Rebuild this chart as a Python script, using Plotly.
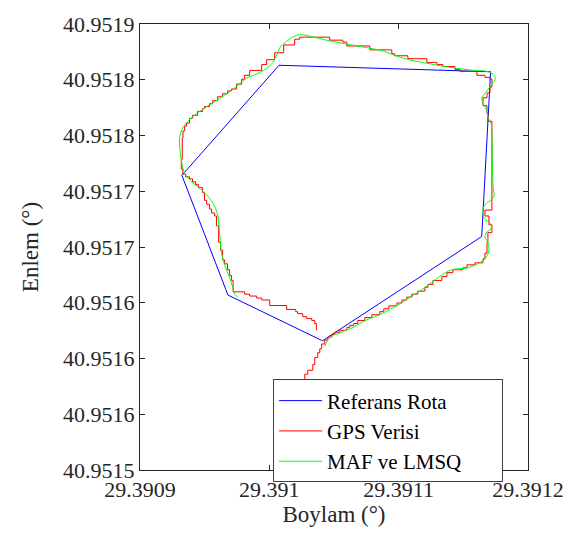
import plotly.graph_objects as go

# Reference route (polygon vertices)
ref_lon = [29.3909324, 29.3910075, 29.3911711, 29.3911642, 29.3910411, 29.3909680, 29.3909324]
ref_lat = [40.9517642, 40.9518630, 40.9518572, 40.9517094, 40.9516159, 40.9516569, 40.9517642]

# Raw GPS samples (step path)
gps_lon = [29.3910274, 29.3910274, 29.3910297, 29.3910336, 29.3910351, 29.3910374, 29.3910390, 29.3910405,
           29.3910428, 29.3910452, 29.3910483, 29.3910506, 29.3910545, 29.3910599, 29.3910622, 29.3910653,
           29.3910684, 29.3910738, 29.3910792, 29.3910854, 29.3910885, 29.3910924, 29.3910986, 29.3911025,
           29.3911063, 29.3911102, 29.3911148, 29.3911203, 29.3911226, 29.3911265, 29.3911334, 29.3911373,
           29.3911419, 29.3911497, 29.3911528, 29.3911590, 29.3911652, 29.3911667, 29.3911683, 29.3911690,
           29.3911721, 29.3911698, 29.3911667, 29.3911721, 29.3911690, 29.3911683, 29.3911652, 29.3911683,
           29.3911706, 29.3911721, 29.3911706, 29.3911667, 29.3911605, 29.3911474, 29.3911435, 29.3911342,
           29.3911296, 29.3911218, 29.3911071, 29.3910970, 29.3910947, 29.3910777, 29.3910599, 29.3910568,
           29.3910467, 29.3910274, 29.3910235, 29.3910196, 29.3910142, 29.3910111, 29.3910041, 29.3909979,
           29.3909941, 29.3909848, 29.3909809, 29.3909786, 29.3909747, 29.3909708, 29.3909677, 29.3909639,
           29.3909600, 29.3909561, 29.3909538, 29.3909499, 29.3909484, 29.3909445, 29.3909406, 29.3909383,
           29.3909360, 29.3909345, 29.3909333, 29.3909327, 29.3909319, 29.3909331, 29.3909352, 29.3909383,
           29.3909406, 29.3909430, 29.3909453, 29.3909484, 29.3909499, 29.3909515, 29.3909538, 29.3909554,
           29.3909577, 29.3909592, 29.3909608, 29.3909623, 29.3909639, 29.3909654, 29.3909677, 29.3909693,
           29.3909708, 29.3909720, 29.3909809, 29.3909848, 29.3909902, 29.3909941, 29.3910003, 29.3910134,
           29.3910204, 29.3910219, 29.3910258, 29.3910289, 29.3910328, 29.3910351, 29.3910364]
gps_lat = [40.9515806, 40.9515859, 40.9515894, 40.9515946, 40.9516008, 40.9516052, 40.9516087, 40.9516130,
           40.9516165, 40.9516192, 40.9516218, 40.9516236, 40.9516253, 40.9516279, 40.9516297, 40.9516314,
           40.9516341, 40.9516367, 40.9516393, 40.9516420, 40.9516446, 40.9516472, 40.9516498, 40.9516525,
           40.9516551, 40.9516577, 40.9516604, 40.9516639, 40.9516665, 40.9516700, 40.9516735, 40.9516770,
           40.9516796, 40.9516814, 40.9516840, 40.9516858, 40.9516893, 40.9516945, 40.9517042, 40.9517129,
           40.9517199, 40.9517278, 40.9517331, 40.9518128, 40.9518198, 40.9518268, 40.9518338, 40.9518382,
           40.9518435, 40.9518505, 40.9518522, 40.9518540, 40.9518575, 40.9518593, 40.9518619, 40.9518636,
           40.9518654, 40.9518689, 40.9518715, 40.9518733, 40.9518768, 40.9518803, 40.9518838, 40.9518855,
           40.9518882, 40.9518882, 40.9518864, 40.9518812, 40.9518812, 40.9518742, 40.9518680, 40.9518636,
           40.9518584, 40.9518540, 40.9518505, 40.9518461, 40.9518417, 40.9518400, 40.9518374, 40.9518347,
           40.9518312, 40.9518286, 40.9518260, 40.9518242, 40.9518216, 40.9518181, 40.9518154, 40.9518111,
           40.9518084, 40.9518041, 40.9517979, 40.9517787, 40.9517699, 40.9517655, 40.9517629, 40.9517611,
           40.9517585, 40.9517559, 40.9517532, 40.9517489, 40.9517418, 40.9517383, 40.9517340, 40.9517305,
           40.9517278, 40.9517191, 40.9517042, 40.9516972, 40.9516884, 40.9516849, 40.9516796, 40.9516744,
           40.9516700, 40.9516598, 40.9516577, 40.9516560, 40.9516542, 40.9516525, 40.9516475, 40.9516440,
           40.9516420, 40.9516402, 40.9516376, 40.9516358, 40.9516341, 40.9516314, 40.9516253]

# Filtered track (MAF + LMSQ)
maf_lon = [29.3910428, 29.3910454, 29.3910493, 29.3910545, 29.3910596, 29.3910648, 29.3910699, 29.3910764,
           29.3910841, 29.3910918, 29.3911009, 29.3911086, 29.3911164, 29.3911254, 29.3911319, 29.3911409,
           29.3911525, 29.3911605, 29.3911667, 29.3911698, 29.3911690, 29.3911667, 29.3911680, 29.3911706,
           29.3911719, 29.3911702, 29.3911675, 29.3911654, 29.3911654, 29.3911680, 29.3911719, 29.3911739,
           29.3911731, 29.3911724, 29.3911714, 29.3911693, 29.3911680, 29.3911654, 29.3911642, 29.3911654,
           29.3911693, 29.3911731, 29.3911748, 29.3911714, 29.3911667, 29.3911603, 29.3911474, 29.3911344,
           29.3911164, 29.3911061, 29.3910970, 29.3910880, 29.3910777, 29.3910596, 29.3910442, 29.3910338,
           29.3910235, 29.3910183, 29.3910132, 29.3910080, 29.3910054, 29.3910016, 29.3909951, 29.3909900,
           29.3909835, 29.3909770, 29.3909693, 29.3909615, 29.3909538, 29.3909461, 29.3909383, 29.3909331,
           29.3909306, 29.3909311, 29.3909327, 29.3909345, 29.3909383, 29.3909461, 29.3909525, 29.3909577,
           29.3909602, 29.3909615, 29.3909629, 29.3909654, 29.3909693, 29.3909718, 29.3909732, 29.3909757]
maf_lat = [40.9516110, 40.9516168, 40.9516207, 40.9516227, 40.9516257, 40.9516279, 40.9516314, 40.9516352,
           40.9516387, 40.9516431, 40.9516490, 40.9516548, 40.9516606, 40.9516680, 40.9516738, 40.9516796,
           40.9516811, 40.9516845, 40.9516893, 40.9516963, 40.9517042, 40.9517088, 40.9517132, 40.9517151,
           40.9517191, 40.9517221, 40.9517239, 40.9517278, 40.9517351, 40.9517395, 40.9517425, 40.9517468,
           40.9517526, 40.9517760, 40.9518111, 40.9518154, 40.9518227, 40.9518286, 40.9518330, 40.9518359,
           40.9518417, 40.9518476, 40.9518522, 40.9518562, 40.9518578, 40.9518582, 40.9518599, 40.9518621,
           40.9518660, 40.9518686, 40.9518718, 40.9518759, 40.9518783, 40.9518820, 40.9518855, 40.9518884,
           40.9518905, 40.9518884, 40.9518844, 40.9518785, 40.9518713, 40.9518639, 40.9518581, 40.9518551,
           40.9518522, 40.9518464, 40.9518391, 40.9518332, 40.9518274, 40.9518216, 40.9518143, 40.9518069,
           40.9517982, 40.9517850, 40.9517734, 40.9517661, 40.9517600, 40.9517526, 40.9517454, 40.9517366,
           40.9517278, 40.9517132, 40.9516957, 40.9516840, 40.9516724, 40.9516636, 40.9516577, 40.9516548]

x_tickvals = [29.3909, 29.3910, 29.3911, 29.3912]
x_ticktext = ["29.3909", "29.391", "29.3911", "29.3912"]
y_tickvals = [40.95150, 40.95155, 40.95160, 40.95165, 40.95170, 40.95175, 40.95180, 40.95185, 40.95190]
y_ticktext = ["40.9515", "40.9516", "40.9516", "40.9516", "40.9517", "40.9517", "40.9518", "40.9518", "40.9519"]

FONT = "Liberation Serif"
AXC = "#262626"

fig = go.Figure()
fig.add_trace(go.Scatter(x=ref_lon, y=ref_lat, mode="lines", name="Referans Rota",
                         line=dict(color="#0000ff", width=1)))
fig.add_trace(go.Scatter(x=gps_lon, y=gps_lat, mode="lines", name="GPS Verisi",
                         line=dict(color="#ff0000", width=1, shape="hv")))
fig.add_trace(go.Scatter(x=maf_lon, y=maf_lat, mode="lines", name="MAF ve LMSQ",
                         line=dict(color="#00ff00", width=1, shape="spline", smoothing=0.8)))

axis_common = dict(showgrid=False, zeroline=False, showline=True, linecolor=AXC, linewidth=1,
                   mirror="ticks", ticks="inside", ticklen=5, tickcolor=AXC, tickwidth=1,
                   tickfont=dict(family=FONT, size=22, color=AXC))

fig.update_xaxes(range=[29.3909, 29.3912], tickvals=x_tickvals, ticktext=x_ticktext,
                 title=dict(text="Boylam (°)", font=dict(family=FONT, size=23, color=AXC), standoff=3),
                 **axis_common)
fig.update_yaxes(range=[40.9515, 40.9519], tickvals=y_tickvals, ticktext=y_ticktext,
                 title=dict(text="Enlem (°)", font=dict(family=FONT, size=23, color=AXC), standoff=18),
                 **axis_common)

fig.update_layout(
    width=583, height=534,
    margin=dict(l=140, r=55, t=14, b=64),
    paper_bgcolor="white", plot_bgcolor="white",
    showlegend=True,
    legend=dict(orientation="h", x=0.343, y=0.203, xanchor="left", yanchor="top",
                bgcolor="white", bordercolor="#404040", borderwidth=1,
                font=dict(family=FONT, size=21, color="#000000"),
                itemwidth=43, tracegroupgap=0, entrywidth=170, entrywidthmode="pixels"),
)

fig.write_html("out.html")
